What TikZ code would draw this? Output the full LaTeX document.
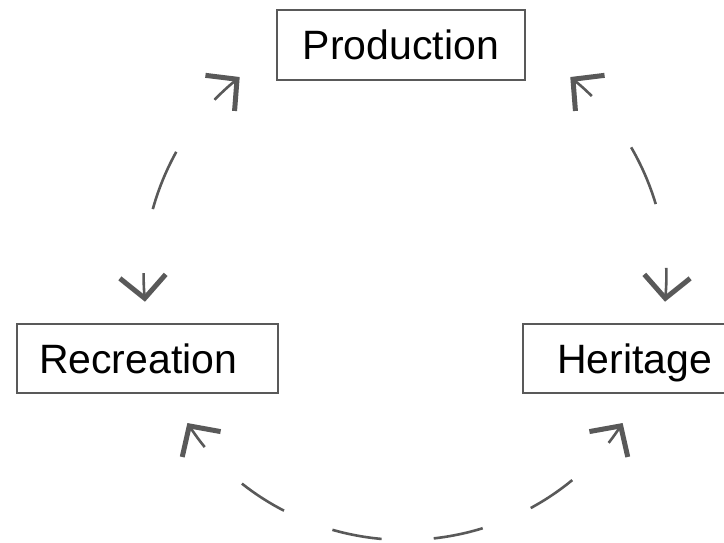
\documentclass[tikz,border=0pt]{standalone}
\usepackage{fontspec}
\setmainfont{Liberation Sans}
\usetikzlibrary{arrows.meta}
\definecolor{linegray}{HTML}{595959}

\begin{document}
\begin{tikzpicture}[x=1pt, y=1pt,
    box/.style={draw=linegray, line width=2.6pt, minimum height=69pt, inner sep=0pt,
      text height=30pt, text depth=0pt, font=\fontsize{41}{48}\selectfont},
    >={Straight Barb[length=22pt, width=46pt, line width=5pt]},
    link/.style={draw=linegray, line width=2.6pt, <->}]

      \useasboundingbox (0,0) rectangle (724,543);

      % Define circle parameters
      \def\rad{261}
      \coordinate (ctr) at (405,264);

      % Draw the boxes
      \node[box, minimum width=248pt, minimum height=70pt] (prod) at (401,498) {Production};
      \node[box, inner xsep=22pt, text width=217pt, align=left] (recr) at (147.5,184.3) {Recreation};
      \node[box, minimum width=223pt] (heri) at (634.5,184.3) {Heritage};

      % Draw the arcs
      \draw[link, dash pattern=on 62pt off 64.8pt, dash phase=34pt]
        (ctr) ++(129.3:\rad) arc[start angle=129.3, end angle=185, radius=\rad];
      \draw[link, dash pattern=on 62pt off 64.8pt, dash phase=34pt]
        (ctr) ++(-5:\rad) arc[start angle=-5, end angle=50.7, radius=\rad];
      \draw[link, dash pattern=on 50.1pt off 52.2pt, dash phase=26.4pt]
        (ctr) ++(213.5:\rad) arc[start angle=213.5, end angle=326.5, radius=\rad];
    \end{tikzpicture}
\end{document}
